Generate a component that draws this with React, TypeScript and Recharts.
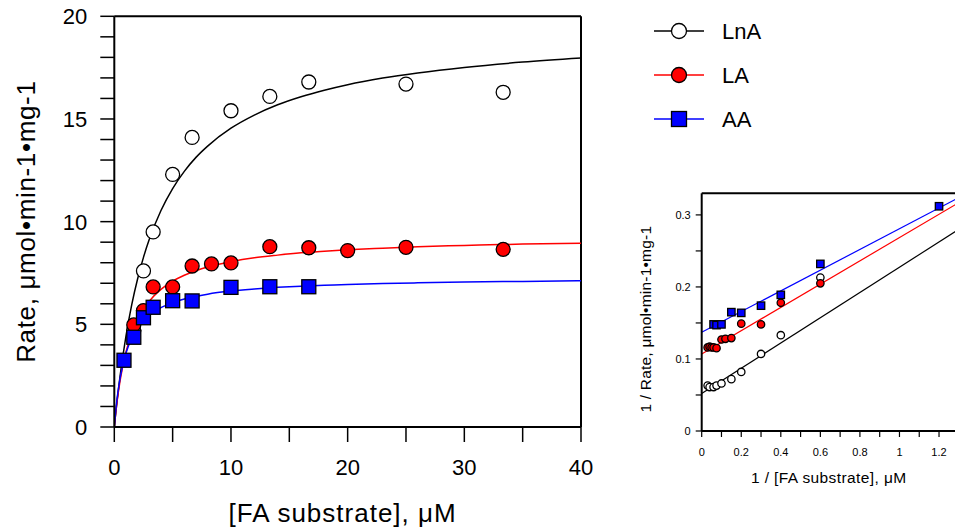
import React from 'react'
import { ComposedChart, Line, Scatter, XAxis, YAxis, ReferenceLine, Legend, Label } from 'recharts'

const FONT = '"Liberation Sans", Arial, Helvetica, sans-serif'

// main plot: rate vs [FA substrate], uM
const lnaSubstrate = [1.67, 2.5, 3.33, 5, 6.67, 10, 13.33, 16.67, 25, 33.33]
const lnaRate = [4.7, 7.6, 9.5, 12.3, 14.1, 15.4, 16.1, 16.8, 16.7, 16.3]
const laSubstrate = [1.67, 2.5, 3.33, 5, 6.67, 8.33, 10, 13.33, 16.67, 20, 25, 33.33]
const laRate = [4.97, 5.67, 6.82, 6.82, 7.84, 7.94, 7.99, 8.78, 8.73, 8.59, 8.75, 8.65]
const aaSubstrate = [0.83, 1.67, 2.5, 3.33, 5, 6.67, 10, 13.33, 16.67]
const aaRate = [3.25, 4.37, 5.32, 5.83, 6.15, 6.14, 6.8, 6.83, 6.83]

// fitted curves
const fitSubstrate = [0, 0.1, 0.25, 0.5, 1, 1.5, 2, 2.5, 3, 4, 5, 6, 7, 8, 10, 12, 14, 16, 18, 20, 23, 26, 30, 35, 40]
const lnaFit = [0, 0.56, 1.34, 2.5, 4.43, 5.97, 7.22, 8.26, 9.14, 10.54, 11.61, 12.45, 13.13, 13.68, 14.55, 15.19, 15.69, 16.08, 16.4, 16.67, 16.99, 17.24, 17.51, 17.77, 17.97]
const laFit = [0, 0.56, 1.29, 2.27, 3.65, 4.57, 5.24, 5.74, 6.13, 6.7, 7.1, 7.39, 7.61, 7.79, 8.05, 8.24, 8.37, 8.48, 8.56, 8.63, 8.71, 8.78, 8.84, 8.91, 8.95]
const aaFit = [0, 0.65, 1.43, 2.39, 3.6, 4.33, 4.82, 5.17, 5.43, 5.81, 6.05, 6.23, 6.36, 6.47, 6.62, 6.72, 6.8, 6.86, 6.9, 6.94, 6.99, 7.02, 7.06, 7.09, 7.12]

// inset: 1 / rate vs 1 / [FA substrate]
const lnaInvSubstrate = [0.03, 0.04, 0.06, 0.075, 0.1, 0.15, 0.2, 0.3, 0.4, 0.6]
const lnaInvRate = [0.063, 0.061, 0.061, 0.063, 0.066, 0.072, 0.082, 0.107, 0.133, 0.213]
const laInvSubstrate = [0.03, 0.04, 0.05, 0.06, 0.075, 0.1, 0.12, 0.15, 0.2, 0.3, 0.4, 0.6]
const laInvRate = [0.116, 0.117, 0.116, 0.116, 0.115, 0.127, 0.128, 0.129, 0.149, 0.148, 0.178, 0.205]
const aaInvSubstrate = [0.06, 0.075, 0.1, 0.15, 0.2, 0.3, 0.4, 0.6, 1.2]
const aaInvRate = [0.148, 0.147, 0.148, 0.165, 0.164, 0.174, 0.189, 0.232, 0.312]

const invFitX = [0, 1.3]
const lnaInvFit = [0.052, 0.28]
const laInvFit = [0.107, 0.317]
const aaInvFit = [0.137, 0.324]

const mainXTicks = [0, 5, 10, 15, 20, 25, 30, 35, 40]
const mainXLabels = [0, 10, 20, 30, 40]
const mainYTicks = [0, 1, 2, 3, 4, 5, 6, 7, 8, 9, 10, 11, 12, 13, 14, 15, 16, 17, 18, 19, 20]
const mainYLabels = [0, 5, 10, 15, 20]
const insetXTicks = [0, 0.1, 0.2, 0.3, 0.4, 0.5, 0.6, 0.7, 0.8, 0.9, 1, 1.1, 1.2, 1.3]
const insetXLabels = [0, 0.2, 0.4, 0.6, 0.8, 1, 1.2]
const insetYTicks = [0, 0.05, 0.1, 0.15, 0.2, 0.25, 0.3]
const insetYLabels = [0, 0.1, 0.2, 0.3]

const series = [
  { name: 'LnA', color: '#000000', fill: '#ffffff', kind: 'circle' },
  { name: 'LA', color: '#ff0000', fill: '#ff0000', kind: 'circle' },
  { name: 'AA', color: '#0000ff', fill: '#0000ff', kind: 'square' },
]

const pts = (xs: number[], ys: number[]) => xs.map((x, i) => ({ x, y: ys[i] }))

const Marker = ({ cx, cy, kind, fill, r }: any) =>
  kind === 'square' ? (
    <rect x={cx - r} y={cy - r} width={r * 2} height={r * 2} fill={fill} stroke="#000" strokeWidth={1.3} />
  ) : (
    <circle cx={cx} cy={cy} r={r} fill={fill} stroke="#000" strokeWidth={1.3} />
  )

const markerShape = (kind: string, fill: string, r: number) => (p: any) =>
  <Marker cx={p.cx} cy={p.cy} kind={kind} fill={fill} r={r} />

const tickLabel = (labels: number[], size: number, anchor: string) => (p: any) => {
  if (!labels.includes(p.payload.value)) return <g />
  return (
    <text x={p.x} y={p.y} dy="0.36em" textAnchor={anchor} fontSize={size} fontFamily={FONT} fill="#000">
      {p.payload.value}
    </text>
  )
}

const xTitle = (text: string, size: number, dy: number, dx: number, spacing: number) => (p: any) => {
  const vb = p.viewBox
  return (
    <text x={vb.x + vb.width / 2 + dx} y={vb.y + dy} dy="0.36em" textAnchor="middle" fontSize={size}
      fontFamily={FONT} letterSpacing={spacing} fill="#000">
      {text}
    </text>
  )
}

const yTitle = (text: string, size: number, cx: number, shift: number, spacing: number) => (p: any) => {
  const vb = p.viewBox
  const cy = vb.y + vb.height / 2 + shift
  return (
    <text x={cx} y={cy} dy="0.36em" textAnchor="middle" fontSize={size} fontFamily={FONT} letterSpacing={spacing}
      fill="#000" transform={`rotate(-90, ${cx}, ${cy})`}>
      {text}
    </text>
  )
}

function LegendBox() {
  return (
    <svg width={140} height={130}>
      {series.map((s, i) => {
        const y = 21 + i * 44
        return (
          <g key={s.name}>
            <line x1={14} x2={64} y1={y} y2={y} stroke={s.color} strokeWidth={1.5} />
            <Marker cx={39} cy={y} kind={s.kind} fill={s.fill} r={7.5} />
            <text x={82} y={y} dy="0.36em" fontSize={22} fontFamily={FONT} fill="#000">{s.name}</text>
          </g>
        )
      })}
    </svg>
  )
}

export default function App() {
  const mainScatter = [pts(lnaSubstrate, lnaRate), pts(laSubstrate, laRate), pts(aaSubstrate, aaRate)]
  const mainFits = [pts(fitSubstrate, lnaFit), pts(fitSubstrate, laFit), pts(fitSubstrate, aaFit)]
  const invScatter = [pts(lnaInvSubstrate, lnaInvRate), pts(laInvSubstrate, laInvRate), pts(aaInvSubstrate, aaInvRate)]
  const invFits = [pts(invFitX, lnaInvFit), pts(invFitX, laInvFit), pts(invFitX, aaInvFit)]

  return (
    <div style={{ position: 'fixed', left: 0, top: 0, width: 955, height: 532, overflow: 'hidden', background: '#fff' }}>
      <div style={{ position: 'absolute', left: 0, top: 0 }}>
        <ComposedChart width={955} height={532} margin={{ top: 16.3, right: 374, bottom: 0, left: 0 }}>
          <XAxis type="number" dataKey="x" domain={[0, 40]} ticks={mainXTicks} allowDataOverflow
            height={105} tickSize={15} tickMargin={25} stroke="#000" axisLine={{ strokeWidth: 2 }}
            tickLine={{ strokeWidth: 1.5 }} tick={tickLabel(mainXLabels, 22, 'middle')} interval={0}>
            <Label content={xTitle('[FA substrate], μM', 26, 85.5, -5, 1)} />
          </XAxis>
          <YAxis type="number" dataKey="y" domain={[0, 20]} ticks={mainYTicks} allowDataOverflow
            width={114.3} tickSize={14} tickMargin={13} stroke="#000" axisLine={{ strokeWidth: 2 }}
            tickLine={{ strokeWidth: 1.5 }} tick={tickLabel(mainYLabels, 22, 'end')} interval={0}>
            <Label content={yTitle('Rate, μmol•min-1•mg-1', 26, 26, 0, 0.65)} />
          </YAxis>
          <ReferenceLine y={20} stroke="#000" strokeWidth={2} />
          <ReferenceLine x={40} stroke="#000" strokeWidth={2} />
          {series.map((s, i) => (
            <Line key={'f' + s.name} data={mainFits[i]} dataKey="y" type="monotone" stroke={s.color}
              strokeWidth={1.5} dot={false} activeDot={false} isAnimationActive={false} />
          ))}
          {series.map((s, i) => (
            <Scatter key={'s' + s.name} data={mainScatter[i]} dataKey="y"
              shape={markerShape(s.kind, s.fill, 7)} isAnimationActive={false} />
          ))}
          <Legend layout="vertical" align="center" verticalAlign="middle"
            wrapperStyle={{ left: 640, top: 10, width: 140 }} content={() => <LegendBox />} />
        </ComposedChart>
      </div>
      <div style={{ position: 'absolute', left: 620, top: 180 }}>
        <ComposedChart width={345} height={311} margin={{ top: 13.3, right: 6.2, bottom: 0, left: 0 }}>
          <XAxis type="number" dataKey="x" domain={[0, 1.3]} ticks={insetXTicks} allowDataOverflow
            height={60} tickSize={6} tickMargin={15} stroke="#000" axisLine={{ strokeWidth: 2 }}
            tickLine={{ strokeWidth: 1.2 }} tick={tickLabel(insetXLabels, 11, 'middle')} interval={0}>
            <Label content={xTitle('1 / [FA substrate], μM', 15.5, 46, -1.5, 0.4)} />
          </XAxis>
          <YAxis type="number" dataKey="y" domain={[0, 0.33]} ticks={insetYTicks} allowDataOverflow
            width={81.7} tickSize={6} tickMargin={5} stroke="#000" axisLine={{ strokeWidth: 2 }}
            tickLine={{ strokeWidth: 1.2 }} tick={tickLabel(insetYLabels, 11, 'end')} interval={0}>
            <Label content={yTitle('1 / Rate, μmol•min-1•mg-1', 15.5, 25, 7, 0.2)} />
          </YAxis>
          <ReferenceLine y={0.33} stroke="#000" strokeWidth={2} />
          {series.map((s, i) => (
            <Line key={'if' + s.name} data={invFits[i]} dataKey="y" type="linear" stroke={s.color}
              strokeWidth={1.2} dot={false} activeDot={false} isAnimationActive={false} />
          ))}
          {series.map((s, i) => (
            <Scatter key={'is' + s.name} data={invScatter[i]} dataKey="y"
              shape={markerShape(s.kind, s.fill, 3.7)} isAnimationActive={false} />
          ))}
        </ComposedChart>
      </div>
    </div>
  )
}
